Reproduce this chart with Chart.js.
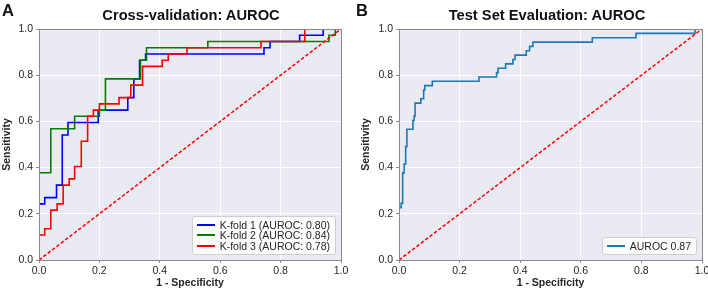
<!DOCTYPE html>
<html><head><meta charset="utf-8">
<script src="https://cdn.jsdelivr.net/npm/chart.js@4"></script>
<style>
html,body{margin:0;padding:0;background:#fff;overflow:hidden}
#root{position:relative;width:708px;height:290px;overflow:hidden;font-family:"Liberation Sans",Arial,sans-serif;color:#262626}
.panel{position:absolute;top:0;height:290px}
.ttl{position:absolute;top:8px;font-weight:bold;font-size:14.7px;line-height:14.7px;white-space:nowrap;transform:translateX(-50%);color:#111}
.letter{position:absolute;top:2px;font-weight:bold;font-size:16.5px;line-height:16.5px;color:#111}
.legend{position:absolute;background:rgba(255,255,255,0.85);border:1px solid #cfcfcf;border-radius:3px;padding:3px 5px 3px 4px;font-size:10.5px;color:#262626}
.legend .row{display:flex;align-items:center;height:10.4px;line-height:10.4px;white-space:nowrap}
.legend .sw{display:inline-block;width:18px;height:2px;margin-right:5px}
</style></head>
<body>
<div id="root">
  <div class="panel" id="pA" style="left:0;width:354px"><canvas id="cA" width="354" height="290"></canvas></div>
  <div class="panel" id="pB" style="left:354px;width:370px"><canvas id="cB" width="370" height="290"></canvas></div>
  <div class="letter" style="left:2px">A</div>
  <div class="letter" style="left:356px">B</div>
  <div class="ttl" style="left:191px">Cross-validation: AUROC</div>
  <div class="ttl" style="left:547px">Test Set Evaluation: AUROC</div>
</div>
<script>
// ---- data ----
const tickValues = [0, 0.2, 0.4, 0.6, 0.8, 1.0];
const chanceX = [0, 1];
const chanceY = [0, 1];

const fold1Label = "K-fold 1 (AUROC: 0.80)";
const fold1Fpr = [0,0,0.019,0.019,0.058,0.058,0.077,0.077,0.096,0.096,0.196,0.196,0.294,0.294,0.314,0.314,0.333,0.333,0.353,0.353,0.745,0.745,0.765,0.765,0.863,0.863,0.941,0.941,1];
const fold1Tpr = [0,0.243,0.243,0.270,0.270,0.324,0.324,0.541,0.541,0.595,0.595,0.649,0.649,0.703,0.703,0.784,0.784,0.865,0.865,0.892,0.892,0.919,0.919,0.946,0.946,0.973,0.973,1,1];

const fold2Label = "K-fold 2 (AUROC: 0.84)";
const fold2Fpr = [0,0,0.039,0.039,0.118,0.118,0.2,0.2,0.22,0.22,0.336,0.336,0.356,0.356,0.559,0.559,0.96,0.96,0.981,0.981,1];
const fold2Tpr = [0,0.378,0.378,0.568,0.568,0.622,0.622,0.649,0.649,0.784,0.784,0.865,0.865,0.919,0.919,0.946,0.946,0.973,0.973,1,1];

const fold3Label = "K-fold 3 (AUROC: 0.78)";
const fold3Fpr = [0,0,0.019,0.019,0.039,0.039,0.06,0.06,0.08,0.08,0.1,0.1,0.118,0.118,0.14,0.14,0.161,0.161,0.18,0.18,0.2,0.2,0.265,0.265,0.304,0.304,0.343,0.343,0.408,0.408,0.428,0.428,0.49,0.49,0.735,0.735,0.88,0.88,1];
const fold3Tpr = [0,0.108,0.108,0.135,0.135,0.216,0.216,0.243,0.243,0.324,0.324,0.351,0.351,0.405,0.405,0.514,0.514,0.622,0.622,0.649,0.649,0.676,0.676,0.703,0.703,0.757,0.757,0.838,0.838,0.865,0.865,0.892,0.892,0.919,0.919,0.946,0.946,1,1];

const testLabel = "AUROC 0.87";
const testFpr = [0,0,0.007,0.007,0.01,0.01,0.013,0.013,0.017,0.017,0.02,0.02,0.023,0.023,0.026,0.026,0.046,0.046,0.05,0.05,0.053,0.053,0.072,0.072,0.08,0.08,0.082,0.082,0.085,0.085,0.11,0.11,0.264,0.264,0.322,0.322,0.327,0.327,0.352,0.352,0.376,0.376,0.383,0.383,0.42,0.42,0.431,0.431,0.442,0.442,0.638,0.638,0.782,0.782,0.977,0.977,1];
const testTpr = [0,0.226,0.226,0.245,0.245,0.358,0.358,0.377,0.377,0.415,0.415,0.434,0.434,0.491,0.491,0.566,0.566,0.604,0.604,0.623,0.623,0.679,0.679,0.698,0.698,0.717,0.717,0.736,0.736,0.755,0.755,0.774,0.774,0.792,0.792,0.811,0.811,0.83,0.83,0.849,0.849,0.868,0.868,0.887,0.887,0.906,0.906,0.925,0.925,0.943,0.943,0.962,0.962,0.981,0.981,1,1];

const xTitle = "1 - Specificity";
const yTitle = "Sensitivity";

// ---- helpers ----
const FONT = '"Liberation Sans", Arial, sans-serif';
const pts = (xs, ys) => xs.map((x, i) => ({x: x, y: ys[i]}));
function curve(label, xs, ys, color, order) {
  return {label, data: pts(xs, ys), borderColor: color, backgroundColor: color, borderWidth: 1.6,
    pointRadius: 0, tension: 0, fill: false, order, showInLegend: true, borderJoinStyle: 'miter'};
}
function chance() {
  return {label: 'chance', data: pts(chanceX, chanceY), borderColor: '#ff0000', borderWidth: 1.5,
    borderDash: [3.5, 2], pointRadius: 0, fill: false, order: 0, showInLegend: false};
}
const framePlugin = {
  id: 'frame',
  beforeDraw(c) {
    const a = c.chartArea, ctx = c.ctx;
    ctx.save(); ctx.fillStyle = '#EAEAF2'; ctx.fillRect(a.left, a.top, a.right - a.left, a.bottom - a.top); ctx.restore();
  },
  afterDraw(c) {
    const a = c.chartArea, ctx = c.ctx;
    ctx.save(); ctx.strokeStyle = '#8a8a8a'; ctx.lineWidth = 1;
    ctx.strokeRect(Math.round(a.left) + 0.5, Math.round(a.top) + 0.5, Math.round(a.right - a.left), Math.round(a.bottom - a.top));
    ctx.restore();
  }
};
function axis(isX, fitSize, titlePad) {
  return {
    type: 'linear', min: 0, max: 1,
    afterBuildTicks: s => { s.ticks = tickValues.map(v => ({value: v})); },
    ticks: {callback: v => Number(v).toFixed(1), font: {family: FONT, size: 10.5}, color: '#262626',
      padding: isX ? 2 : 3, maxRotation: 0, autoSkip: false},
    grid: {color: '#ffffff', lineWidth: 1, tickLength: 3, tickColor: '#8a8a8a', drawTicks: true},
    border: {display: false},
    title: {display: true, text: isX ? xTitle : yTitle, color: '#262626',
      font: {family: FONT, size: 10.5, weight: 'bold'},
      padding: isX ? {top: 0, bottom: 1} : {top: titlePad, bottom: 0}},
    afterFit: s => { if (isX) s.height = fitSize; else s.width = fitSize; }
  };
}
function makeChart(id, datasets, yWidth, rightPad, yTitlePad) {
  return new Chart(document.getElementById(id), {
    type: 'line',
    data: {datasets},
    options: {
      responsive: false, animation: false, devicePixelRatio: 1, parsing: true,
      layout: {padding: {top: 29, right: rightPad, left: 0, bottom: 0}},
      plugins: {legend: {display: false}, tooltip: {enabled: false}, title: {display: false}},
      scales: {x: axis(true, 30, 0), y: axis(false, yWidth, yTitlePad)}
    },
    plugins: [framePlugin]
  });
}
function htmlLegend(chart, panelId, panelWidth) {
  const a = chart.chartArea;
  const box = document.createElement('div');
  box.className = 'legend';
  chart.data.datasets.filter(d => d.showInLegend).forEach(d => {
    const row = document.createElement('div'); row.className = 'row';
    const sw = document.createElement('span'); sw.className = 'sw'; sw.style.background = d.borderColor;
    const tx = document.createElement('span'); tx.textContent = d.label;
    row.appendChild(sw); row.appendChild(tx); box.appendChild(row);
  });
  box.style.right = (panelWidth - a.right + 5) + 'px';
  box.style.bottom = (290 - a.bottom + 5) + 'px';
  document.getElementById(panelId).appendChild(box);
}

const chartA = makeChart('cA', [
  curve(fold1Label, fold1Fpr, fold1Tpr, '#0000ff', 3),
  curve(fold2Label, fold2Fpr, fold2Tpr, '#008000', 2),
  curve(fold3Label, fold3Fpr, fold3Tpr, '#ff0000', 1),
  chance()
], 39, 13, 1);
const chartB = makeChart('cB', [
  curve(testLabel, testFpr, testTpr, '#1f77b4', 1),
  chance()
], 45, 22, 6);
htmlLegend(chartA, 'pA', 354);
htmlLegend(chartB, 'pB', 370);
</script>
</body></html>
